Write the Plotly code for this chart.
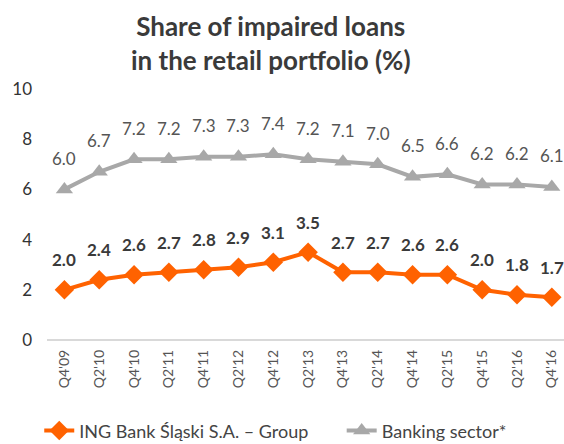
import plotly.graph_objects as go

quarters = ["Q4'09", "Q2'10", "Q4'10", "Q2'11", "Q4'11", "Q2'12", "Q4'12", "Q2'13",
            "Q4'13", "Q2'14", "Q4'14", "Q2'15", "Q4'15", "Q2'16", "Q4'16"]
ing_group = [2.0, 2.4, 2.6, 2.7, 2.8, 2.9, 3.1, 3.5, 2.7, 2.7, 2.6, 2.6, 2.0, 1.8, 1.7]
banking_sector = [6.0, 6.7, 7.2, 7.2, 7.3, 7.3, 7.4, 7.2, 7.1, 7.0, 6.5, 6.6, 6.2, 6.2, 6.1]
y_ticks = [0, 2, 4, 6, 8, 10]

ORANGE = "#FF6200"
GREY = "#A8A8A8"
FONT = "Lato"

fig = go.Figure()

fig.add_trace(go.Scatter(
    x=quarters, y=ing_group, mode="lines+markers",
    name="ING Bank Śląski S.A. – Group",
    line=dict(color=ORANGE, width=4),
    marker=dict(symbol="diamond", size=15, color=ORANGE),
    legend="legend",
))
fig.add_trace(go.Scatter(
    x=quarters, y=banking_sector, mode="lines+markers",
    name="Banking sector*",
    line=dict(color=GREY, width=4),
    marker=dict(symbol="triangle-up", size=15, color=GREY),
    legend="legend2",
))

# value labels above the points
for q, v in zip(quarters, ing_group):
    fig.add_annotation(x=q, y=v, text=f"{v:.1f}", showarrow=False, yshift=30,
                       font=dict(family=FONT, size=17, color="#3a3a3a", weight="bold"))
for q, v in zip(quarters, banking_sector):
    fig.add_annotation(x=q, y=v, text=f"{v:.1f}", showarrow=False, yshift=31,
                       font=dict(family=FONT, size=17, color="#555555"))

legend_style = dict(orientation="h", xanchor="left", y=-0.288, yanchor="top",
                    font=dict(family=FONT, size=18, color="#444444"),
                    bgcolor="rgba(0,0,0,0)")

fig.update_layout(
    width=564, height=444,
    margin=dict(l=47, r=0, t=89, b=104, autoexpand=False),
    plot_bgcolor="white", paper_bgcolor="white",
    font=dict(family=FONT, color="#333333"),
    title=dict(
        text="Share of impaired loans<br>in the retail portfolio (%)",
        x=0.48, xanchor="center", y=0.918, yanchor="top",
        font=dict(family=FONT, size=26, color="#3a3a3a", weight="bold"),
    ),
    showlegend=True,
    legend=dict(x=-0.015, **legend_style),
    legend2=dict(x=0.57, **legend_style),
    xaxis=dict(
        range=[-0.5, 14.35], showgrid=False, zeroline=False, automargin=False,
        showline=False, tickangle=-90, ticklabelstandoff=6,
        tickfont=dict(family=FONT, size=14, color="#555555"),
    ),
    yaxis=dict(
        range=[0, 10], tickvals=y_ticks, showgrid=False, zeroline=True, automargin=False,
        zerolinecolor="#d9d9d9", zerolinewidth=2, showline=False,
        tickfont=dict(family=FONT, size=17, color="#333333"), ticklabelstandoff=14,
    ),
)

fig.write_html("out.html", config={"displayModeBar": False},
               post_script="document.body.style.margin='0';")
